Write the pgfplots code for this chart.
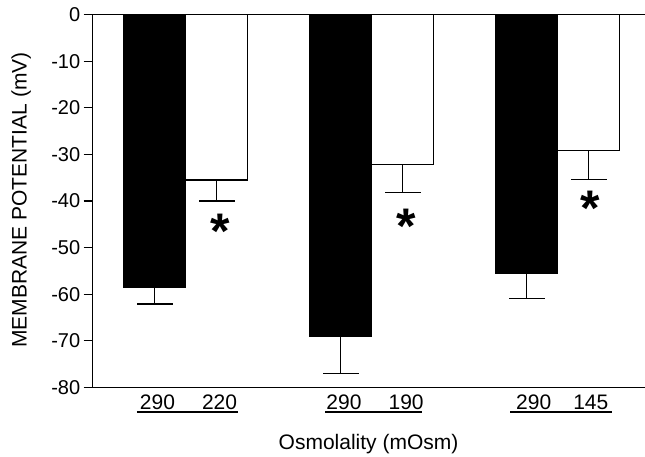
\documentclass[border=0pt]{standalone}
\usepackage{fontspec}
\setmainfont{Liberation Sans}
\usepackage{pgfplots}
\pgfplotsset{compat=1.18}

\tikzset{
  cat/.style={font=\fontsize{21}{21}\selectfont, anchor=base, inner sep=0},
  star/.style={font=\fontsize{50}{50}\bfseries\selectfont, anchor=base, inner sep=0, yshift=-25pt},
  ytk/.style={line width=1.2pt, black},
}

\begin{document}
\begin{tikzpicture}
\begin{axis}[
  scale only axis,
  width=558pt, height=372.6pt,
  xmin=0.5, xmax=3.5,
  ymin=-80, ymax=0,
  axis line style={line width=1.3pt},
  xtick=\empty,
  ytick={-80,-70,...,0},
  yticklabels={-80,-70,-60,-50,-40,-30,-20,-10,0},
  ytick pos=left,
  tick align=outside,
  major tick length=9pt,
  every tick/.style={line width=1.2pt, black},
  yticklabel style={font=\fontsize{20}{20}\selectfont},
  clip=false,
]
% isotonic (290 mOsm)
\addplot[ybar, bar width=0.333, bar shift=0pt,
  fill=black, draw=black, line width=1.2pt,
  error bars/.cd, y dir=minus, y explicit,
  error bar style={line width=1.2pt, black},
  error mark options={rotate=90, mark size=18pt, line width=1.2pt, black}]
  coordinates {
    (0.833,-58.6) -= (0,3.5)
    (1.833,-69.0) -= (0,8.1)
    (2.833,-55.5) -= (0,5.5)
  };
% hypotonic
\addplot[ybar, bar width=0.333, bar shift=0pt,
  fill=white, draw=black, line width=1.2pt,
  error bars/.cd, y dir=minus, y explicit,
  error bar style={line width=1.2pt, black},
  error mark options={rotate=90, mark size=18pt, line width=1.2pt, black}]
  coordinates {
    (1.167,-35.5) -= (0,4.5)
    (2.167,-32.1) -= (0,6.0)
    (3.167,-29.2) -= (0,6.1)
  };

% outward tick marks on the y axis
\draw[ytk] (axis cs:0.5,0) -- ++(-9pt,0pt);
\draw[ytk] (axis cs:0.5,-10) -- ++(-9pt,0pt);
\draw[ytk] (axis cs:0.5,-20) -- ++(-9pt,0pt);
\draw[ytk] (axis cs:0.5,-30) -- ++(-9pt,0pt);
\draw[ytk] (axis cs:0.5,-40) -- ++(-9pt,0pt);
\draw[ytk] (axis cs:0.5,-50) -- ++(-9pt,0pt);
\draw[ytk] (axis cs:0.5,-60) -- ++(-9pt,0pt);
\draw[ytk] (axis cs:0.5,-70) -- ++(-9pt,0pt);
\draw[ytk] (axis cs:0.5,-80) -- ++(-9pt,0pt);

% significance marks
\node[star] at (axis cs:1.183,-44.9) {*};
\node[star] at (axis cs:2.184,-43.7) {*};
\node[star] at (axis cs:3.174,-40.0) {*};

% category labels, underlined in pairs
\node[cat] at (axis cs:0.848,-84.8) {290};
\node[cat] at (axis cs:1.182,-84.8) {220};
\node[cat] at (axis cs:1.851,-84.8) {290};
\node[cat] at (axis cs:2.185,-84.8) {190};
\node[cat] at (axis cs:2.871,-84.8) {290};
\node[cat] at (axis cs:3.178,-84.8) {145};
\draw[line width=1.5pt] (axis cs:0.738,-85.3) -- (axis cs:1.281,-85.3);
\draw[line width=1.5pt] (axis cs:1.749,-85.3) -- (axis cs:2.270,-85.3);
\draw[line width=1.5pt] (axis cs:2.744,-85.3) -- (axis cs:3.290,-85.3);

% axis titles
\node[cat] at (axis cs:1.983,-93.3) {Osmolality (mOsm)};
\node[cat, rotate=90] at (axis cs:0.145,-39.8) {MEMBRANE POTENTIAL (mV)};
\end{axis}
\pgfresetboundingbox
\path[use as bounding box] (current axis.south west) ++(-92.7pt,-69.7pt) rectangle ++(645pt,457pt);
\end{tikzpicture}
\end{document}
